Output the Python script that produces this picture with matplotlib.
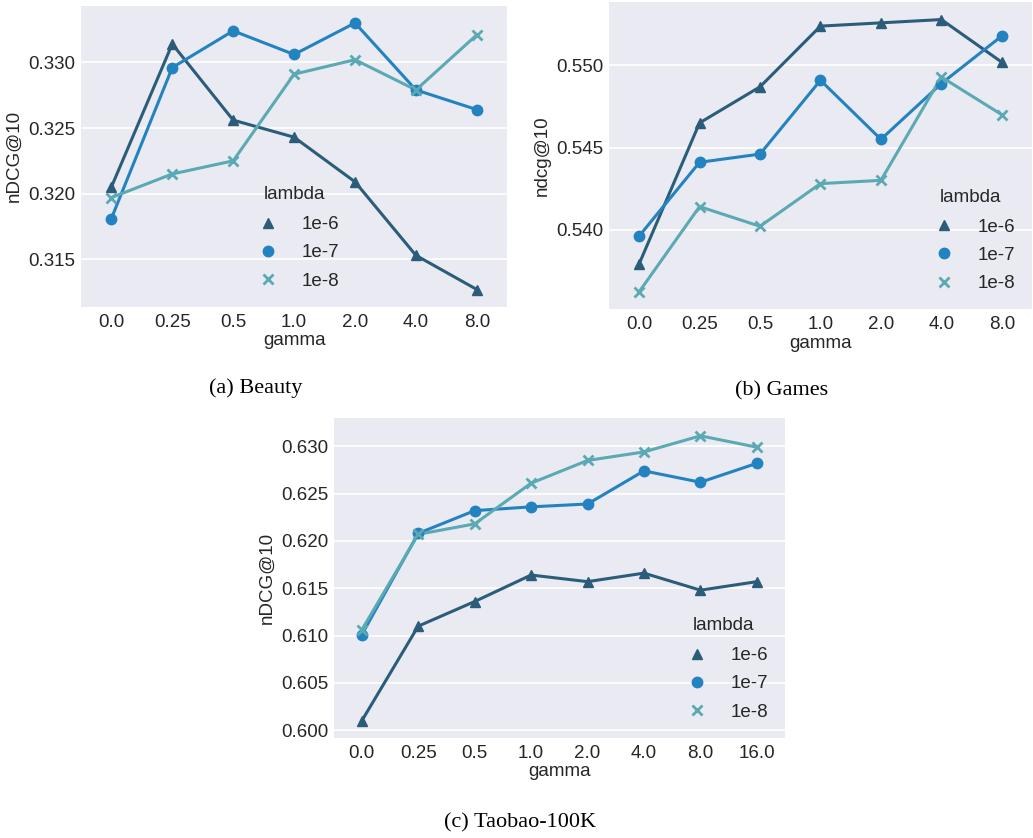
import matplotlib
matplotlib.use("Agg")
import matplotlib.pyplot as plt
import numpy as np

plt.rcParams.update({
    "font.family": "Liberation Sans",
    "axes.facecolor": "#eaeaf2",
    "axes.edgecolor": "white",
    "axes.grid": True,
    "axes.grid.axis": "y",
    "grid.color": "white",
    "grid.linewidth": 1.2,
    "xtick.major.size": 0,
    "ytick.major.size": 0,
    "xtick.major.pad": 5,
    "ytick.major.pad": 4,
    "text.color": "#262626",
    "axes.labelcolor": "#262626",
    "xtick.color": "#262626",
    "ytick.color": "#262626",
})

LAMBDAS = ["1e-6", "1e-7", "1e-8"]
GAMMA_7 = ["0.0", "0.25", "0.5", "1.0", "2.0", "4.0", "8.0"]
GAMMA_8 = GAMMA_7 + ["16.0"]

# Beauty
beauty_1e6 = [0.3205, 0.3314, 0.3256, 0.3243, 0.3209, 0.3153, 0.3127]
beauty_1e7 = [0.3181, 0.3296, 0.3324, 0.3306, 0.3330, 0.3279, 0.3264]
beauty_1e8 = [0.3197, 0.3215, 0.3225, 0.3291, 0.3302, 0.3279, 0.3321]

# Games
games_1e6 = [0.5379, 0.5465, 0.5487, 0.5524, 0.5526, 0.5528, 0.5502]
games_1e7 = [0.5396, 0.5441, 0.5446, 0.5491, 0.5455, 0.5489, 0.5518]
games_1e8 = [0.5362, 0.5414, 0.5402, 0.5428, 0.5430, 0.5493, 0.5470]

# Taobao-100K
taobao_1e6 = [0.6010, 0.6110, 0.6136, 0.6164, 0.6157, 0.6166, 0.6148, 0.6157]
taobao_1e7 = [0.6101, 0.6208, 0.6232, 0.6236, 0.6239, 0.6274, 0.6262, 0.6282]
taobao_1e8 = [0.6106, 0.6207, 0.6218, 0.6261, 0.6285, 0.6294, 0.6311, 0.6299]

COLORS = ["#2b5d7b", "#2383c0", "#5aa9b3"]
MARKERS = ["^", "o", "x"]
FS = 13.5


def panel(ax, gammas, series, ylabel, ylim, yticks, legend_loc):
    x = np.arange(len(gammas))
    for vals, lab, c, m in zip(series, LAMBDAS, COLORS, MARKERS):
        ax.plot(x, vals, color=c, lw=2.2, zorder=3)
        ax.plot(x, vals, ls="none", marker=m, color=c, ms=7.5 if m != "x" else 6.5,
                mew=2 if m == "x" else 1, label=lab, zorder=4)
    ax.set_xlim(-0.5, len(gammas) - 0.5)
    ax.set_xticks(x)
    ax.set_xticklabels(gammas)
    ax.set_ylim(*ylim)
    ax.set_yticks(yticks)
    ax.set_yticklabels([f"{t:.3f}" for t in yticks])
    ax.tick_params(labelsize=FS)
    ax.set_xlabel("gamma", fontsize=FS, labelpad=1)
    ax.set_ylabel(ylabel, fontsize=FS)
    for sp in ax.spines.values():
        sp.set_visible(False)
    ax.set_axisbelow(True)
    leg = ax.legend(title="lambda", loc=legend_loc, frameon=False, fontsize=FS,
                    title_fontsize=FS, handlelength=2.0, handletextpad=0.8,
                    labelspacing=0.6)
    leg._legend_box.sep = 9


fig = plt.figure(figsize=(10.33, 8.38), dpi=100)

ax_a = fig.add_axes([0.0783, 0.6340, 0.4128, 0.3588])
panel(ax_a, GAMMA_7, [beauty_1e6, beauty_1e7, beauty_1e8], "nDCG@10",
      (0.31139, 0.33429), [0.315, 0.320, 0.325, 0.330], "lower center")

ax_b = fig.add_axes([0.5894, 0.6309, 0.4097, 0.3671])
panel(ax_b, GAMMA_7, [games_1e6, games_1e7, games_1e8], "ndcg@10",
      (0.53514, 0.55389), [0.540, 0.545, 0.550], "lower right")

ax_c = fig.add_axes([0.3229, 0.1197, 0.4371, 0.3819])
panel(ax_c, GAMMA_8, [taobao_1e6, taobao_1e7, taobao_1e8], "nDCG@10",
      (0.59922, 0.63302), [0.600, 0.605, 0.610, 0.615, 0.620, 0.625, 0.630],
      "lower right")

cap = dict(fontsize=16, family="Liberation Serif", ha="center", va="center",
           color="black")
fig.text(256 / 1033, 1 - 388 / 838, "(a) Beauty", **cap)
fig.text(782 / 1033, 1 - 391 / 838, "(b) Games", **cap)
fig.text(520 / 1033, 1 - 823 / 838, "(c) Taobao-100K", **cap)

fig.savefig("out.png", dpi=100)
